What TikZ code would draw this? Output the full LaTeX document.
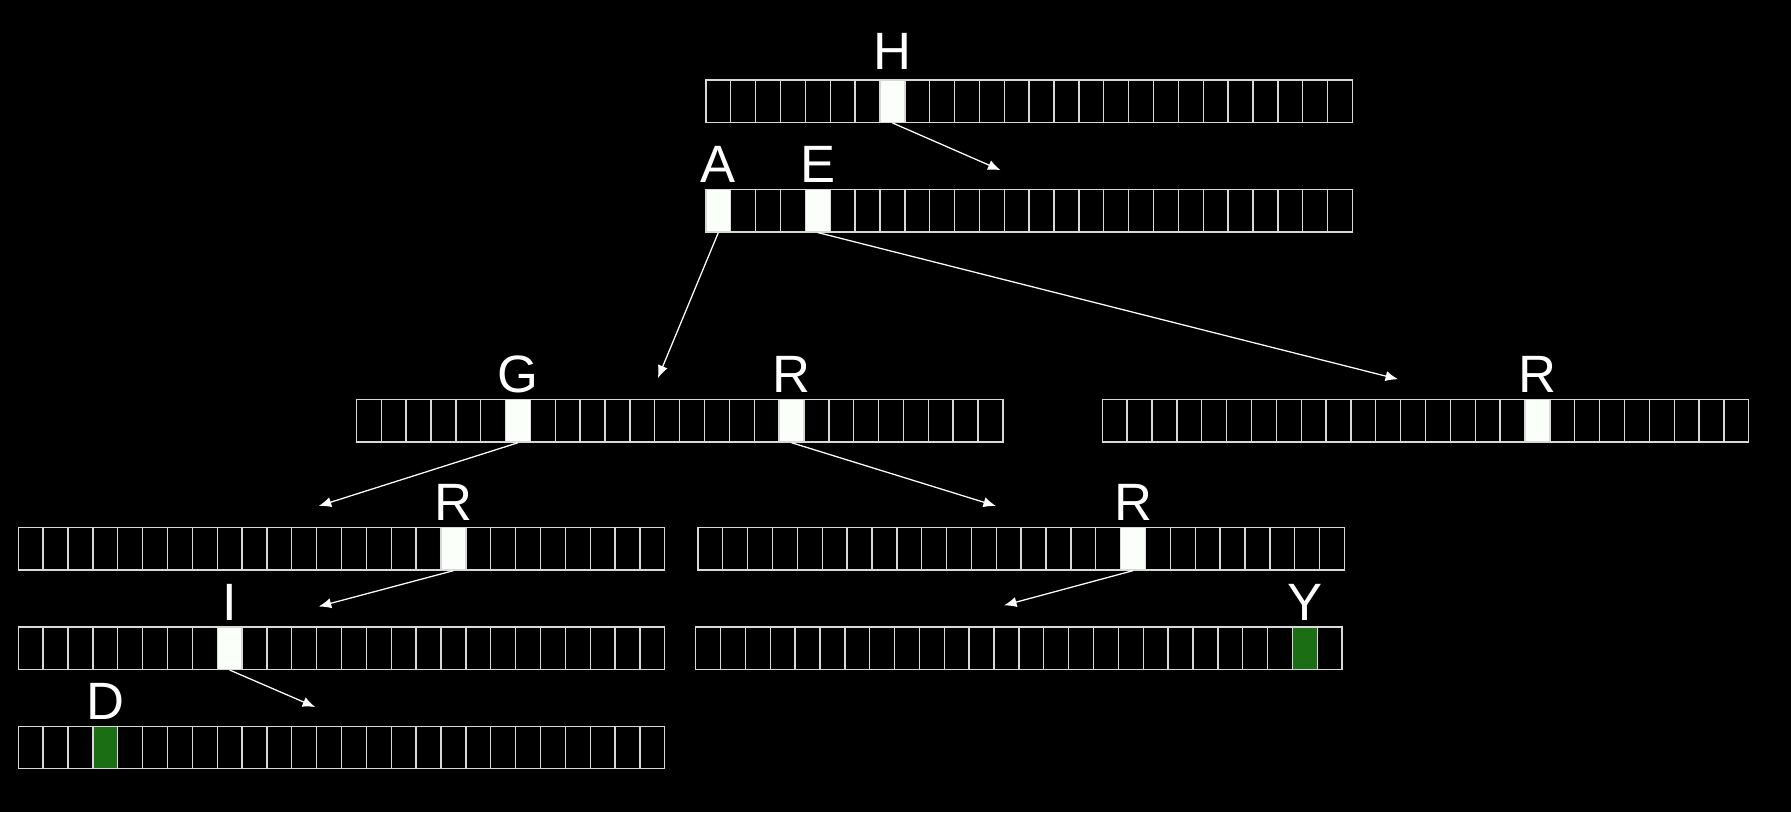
\documentclass[tikz,border=0pt]{standalone}
\usepackage{fontspec}
\setmainfont{Liberation Sans}
\usepackage{tikz}
\usetikzlibrary{shapes,arrows,arrows.meta,positioning}
\definecolor{cline}{HTML}{D8D8D8}
\definecolor{cmark}{HTML}{FAFFFA}
\definecolor{cend}{HTML}{1C6E14}
\tikzstyle{cell} = [rectangle, draw=cline, line width=0.6pt, inner sep=0, minimum width=10.885pt, minimum height=18.5pt]
\tikzstyle{used} = [fill=cmark]
\tikzstyle{endword} = [fill=cend]
\tikzstyle{letter} = [white, inner sep=0, font=\fontsize{23}{25}\selectfont]
\tikzstyle{arrow} = [draw, white, line width=0.55pt, -{Latex[length=5.5pt, width=4.5pt]}]
% one row of 26 cells: name, left x, top y
\newcommand{\trierow}[3]{%
\foreach \i in {0,...,25}
  \node[cell, #1-\i/.try] (#1-\i) at ({#2+(\i+0.5)*21.77}, {#3+18.5}) {};}

\begin{document}
\begin{tikzpicture}[x=0.5pt, y=-0.5pt,
  h-7/.style=used, ae-0/.style=used, ae-4/.style=used,
  gr-6/.style=used, gr-17/.style=used, rr-17/.style=used,
  rl-17/.style=used, rm-17/.style=used, i-8/.style=used,
  y-24/.style=endword, d-3/.style=endword]
\fill[black] (0,0) rectangle (1568,711);

%% rows
\trierow{h}{618}{70}
\trierow{ae}{618}{166}
\trierow{gr}{312}{350}
\trierow{rr}{965}{350}
\trierow{rl}{16}{462}
\trierow{rm}{611}{462}
\trierow{i}{16}{549}
\trierow{y}{609}{549}
\trierow{d}{16}{636}

%% letters
\node[letter, above=4pt of h-7] (lh) {H};
\node[letter, above=2.5pt of ae-0] (la) {A};
\node[letter, above=2.5pt of ae-4] (le) {E};
\node[letter, above=2.5pt of gr-6] (lg) {G};
\node[letter, above=2.5pt of gr-17] (lr1) {R};
\node[letter, above=2.5pt of rr-17] (lr2) {R};
\node[letter, above=2.5pt of rl-17] (lr3) {R};
\node[letter, above=2.5pt of rm-17] (lr4) {R};
\node[letter, above=2.5pt of i-8] (li) {I};
\node[letter, above=2.5pt of y-24] (ly) {Y};
\node[letter, above=2.5pt of d-3] (ld) {D};

%% pointers
\coordinate (th) at (876,149);
\coordinate (ta) at (576,331);
\coordinate (te) at (1224,332);
\coordinate (tg) at (279,443);
\coordinate (tr1) at (872,443);
\coordinate (tr3) at (279,531);
\coordinate (tr4) at (879,530);
\coordinate (ti) at (276,619);
\path [arrow] (h-7.south) to (th);
\path [arrow] (ae-0.south) to (ta);
\path [arrow] (ae-4.south) to (te);
\path [arrow] (gr-6.south) to (tg);
\path [arrow] (gr-17.south) to (tr1);
\path [arrow] (rl-17.south) to (tr3);
\path [arrow] (rm-17.south) to (tr4);
\path [arrow] (i-8.south) to (ti);
\end{tikzpicture}
\end{document}
